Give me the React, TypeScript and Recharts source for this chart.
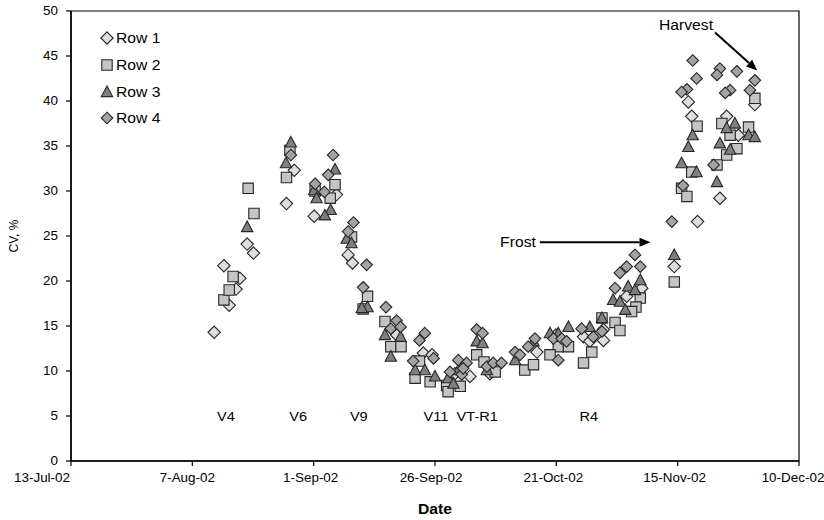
import React from 'react';
import {
  ScatterChart, Scatter, XAxis, YAxis, ReferenceArea, ReferenceLine,
} from 'recharts';

// x = days since 13-Jul-02, y = CV %
const row1X = [29.5, 31.5, 32.6, 34.0, 34.8, 36.3, 37.6, 46.0, 44.4, 50.1, 54.7, 57.1, 58.0, 67.1, 72.6, 74.4, 79.1, 82.2, 86.3, 96.0, 99.9, 105.6, 106.9, 109.7, 109.7, 114.5, 117.6, 124.3, 127.2, 127.9, 129.1, 133.7, 135.1, 137.5, 140.9];
const row1Y = [14.3, 21.7, 17.3, 19.1, 20.3, 24.1, 23.1, 32.3, 28.6, 27.2, 29.6, 22.9, 22.0, 14.0, 12.0, 11.8, 9.7, 9.4, 9.7, 12.1, 14.0, 13.8, 13.3, 13.4, 14.6, 18.3, 19.2, 21.6, 39.9, 38.3, 26.6, 29.2, 38.3, 36.2, 39.6];

const row2X = [31.5, 32.6, 33.4, 36.5, 37.7, 44.4, 45.1, 54.4, 50.3, 53.4, 57.8, 61.1, 60.2, 64.7, 65.9, 68.0, 71.8, 70.9, 74.0, 77.4, 80.2, 77.7, 83.6, 85.1, 87.4, 93.5, 95.3, 100.4, 98.7, 102.5, 107.3, 105.6, 109.4, 112.1, 113.1, 117.3, 116.4, 115.5, 124.3, 129.0, 127.9, 125.8, 126.9, 140.9, 134.1, 139.6, 135.8, 137.2, 135.1, 133.1];
const row2Y = [17.9, 19.0, 20.5, 30.3, 27.5, 31.5, 34.5, 30.7, 30.0, 29.2, 24.9, 18.3, 16.9, 15.5, 12.7, 12.7, 11.1, 9.2, 8.8, 8.4, 8.3, 7.7, 11.8, 11.0, 9.9, 10.1, 10.7, 12.7, 11.8, 12.7, 12.1, 10.9, 15.9, 15.4, 14.5, 18.1, 17.1, 16.6, 19.9, 37.2, 32.1, 30.3, 29.4, 40.3, 37.5, 37.1, 36.2, 34.7, 34.0, 32.9];

const row3X = [36.3, 45.3, 44.3, 54.4, 50.1, 50.6, 53.5, 52.3, 56.8, 57.8, 61.1, 59.9, 64.7, 65.9, 67.9, 70.9, 72.9, 75.0, 79.8, 77.7, 78.8, 83.6, 84.8, 85.7, 91.5, 95.3, 98.7, 100.4, 102.5, 106.9, 109.4, 117.3, 114.8, 116.2, 111.7, 113.1, 114.2, 124.3, 128.1, 127.2, 125.8, 128.9, 136.8, 135.1, 139.6, 140.9, 133.7, 135.8, 133.1];
const row3Y = [26.0, 35.4, 33.1, 32.4, 30.1, 29.2, 27.9, 27.3, 24.7, 24.2, 17.1, 17.0, 14.0, 11.6, 13.8, 10.1, 10.1, 9.4, 10.1, 9.2, 8.6, 13.3, 13.1, 10.1, 11.2, 13.3, 14.2, 14.2, 14.9, 14.9, 15.9, 20.1, 19.4, 19.0, 17.9, 17.7, 16.8, 22.9, 36.2, 34.9, 33.1, 32.1, 37.5, 37.0, 36.2, 36.0, 35.3, 34.6, 31.0];

const row4X = [45.3, 54.0, 53.0, 50.3, 52.2, 58.2, 57.1, 60.9, 60.2, 64.9, 67.1, 65.9, 67.9, 72.9, 71.8, 70.5, 74.7, 79.8, 81.5, 78.1, 80.5, 80.8, 83.6, 84.8, 85.7, 87.0, 88.7, 91.5, 92.5, 94.2, 95.6, 99.4, 101.1, 102.1, 100.4, 105.2, 107.6, 109.4, 116.2, 114.5, 117.3, 113.1, 112.1, 128.1, 128.9, 126.9, 125.8, 123.8, 126.1, 133.7, 133.1, 137.2, 140.9, 135.8, 134.8, 139.9, 132.4];
const row4Y = [34.0, 34.0, 31.8, 30.8, 29.9, 26.5, 25.5, 21.8, 19.3, 17.1, 15.6, 14.7, 14.9, 14.2, 13.4, 11.1, 11.4, 11.2, 10.9, 9.9, 9.6, 10.3, 14.6, 14.2, 10.5, 10.9, 10.9, 12.1, 11.8, 12.7, 13.6, 13.6, 13.6, 13.3, 11.2, 14.7, 13.8, 14.4, 22.9, 21.6, 21.6, 20.9, 19.2, 44.5, 42.5, 41.3, 41.0, 26.6, 30.6, 43.6, 42.9, 43.3, 42.3, 41.2, 40.9, 41.2, 32.9];

const tickDays = [0, 25, 50, 75, 100, 125, 150];
const tickLabels = ['13-Jul-02', '7-Aug-02', '1-Sep-02', '26-Sep-02', '21-Oct-02', '15-Nov-02', '10-Dec-02'];
const yTicks = [0, 5, 10, 15, 20, 25, 30, 35, 40, 45, 50];

const stageNames = ['V4', 'V6', 'V9', 'V11', 'VT-R1', 'R4'];
const stageDays = [31.9, 46.8, 59.3, 75.2, 83.7, 106.7];
const stageY = 4.9;

const frostArrow = [{ x: 96.6, y: 24.3 }, { x: 119.4, y: 24.3 }];
const harvestArrow = [{ x: 132.7, y: 47.6 }, { x: 141.4, y: 43.4 }];

const seriesNames = ['Row 1', 'Row 2', 'Row 3', 'Row 4'];

const FONT = '"Liberation Sans", Arial, sans-serif';
const STROKE = '#262626';
const COLORS = ['#dedede', '#c4c4c4', '#7f7f7f', '#a3a3a3'];
const SX = 1.12; // horizontal stretch of text seen in the reference

const zip = (xs: number[], ys: number[]) => xs.map((x, i) => ({ x, y: ys[i] }));
const row1 = zip(row1X, row1Y);
const row2 = zip(row2X, row2Y);
const row3 = zip(row3X, row3Y);
const row4 = zip(row4X, row4Y);
const stages = stageNames.map((n, i) => ({ x: stageDays[i], y: stageY, name: n }));

const markerPath = (kind: number, cx: number, cy: number) => {
  if (kind === 0 || kind === 3) {
    const r = kind === 0 ? 6.2 : 5.8;
    return `M${cx},${cy - r}L${cx + r},${cy}L${cx},${cy + r}L${cx - r},${cy}Z`;
  }
  if (kind === 1) {
    const h = 5.2;
    return `M${cx - h},${cy - h}L${cx + h},${cy - h}L${cx + h},${cy + h}L${cx - h},${cy + h}Z`;
  }
  return `M${cx},${cy - 6}L${cx + 5.7},${cy + 4.6}L${cx - 5.7},${cy + 4.6}Z`;
};

const makeShape = (kind: number) => (p: any) => {
  if (p.cx == null || p.cy == null) return <g />;
  return <path d={markerPath(kind, p.cx, p.cy)} fill={COLORS[kind]} stroke={STROKE} strokeWidth={1.1} />;
};

const SText = ({ x, y, anchor = 'middle', size = 12, weight = 'normal', children }: any) => (
  <text
    transform={`translate(${x},${y}) scale(${SX},1)`}
    textAnchor={anchor}
    fontFamily={FONT}
    fontSize={size}
    fontWeight={weight}
    fill="#000"
  >
    {children}
  </text>
);

const stageShape = (p: any) => (
  <SText x={p.cx} y={p.cy + 4.5} size={13}>{p.payload?.name}</SText>
);

const xTickShift = [-29, -5, -3, -4, -3, -3, -6];
const XTick = (p: any) => {
  const idx = tickDays.indexOf(p.payload?.value);
  return (
    <SText x={p.x + (xTickShift[idx] ?? 0)} y={p.y + 11} size={12}>
      {tickLabels[idx] ?? ''}
    </SText>
  );
};

const YTick = (p: any) => (
  <SText x={p.x} y={p.y + 4.3} anchor="end" size={12}>{p.payload?.value}</SText>
);

const arrowShape = (label: string, labelDx: number, labelDy: number) => (p: any) => {
  const { x1, y1, x2, y2 } = p;
  if ([x1, y1, x2, y2].some((v) => v == null || isNaN(v))) return <g />;
  const ang = Math.atan2(y2 - y1, x2 - x1);
  const L = 11, W = 4.5;
  const bx = x2 - L * Math.cos(ang), by = y2 - L * Math.sin(ang);
  const px = -Math.sin(ang) * W, py = Math.cos(ang) * W;
  return (
    <g>
      <line x1={x1} y1={y1} x2={bx} y2={by} stroke="#000" strokeWidth={2} />
      <path d={`M${x2},${y2}L${bx + px},${by + py}L${bx - px},${by - py}Z`} fill="#000" />
      <SText x={x1 + labelDx} y={y1 + labelDy} anchor="end" size={14}>{label}</SText>
    </g>
  );
};

const YLabel = (p: any) => {
  const vb = p.viewBox || {};
  const x = 14;
  const y = (vb.y ?? 11) + (vb.height ?? 450) / 2;
  return (
    <text x={x} y={y} transform={`rotate(-90, ${x}, ${y})`} textAnchor="middle" dominantBaseline="central" fontFamily={FONT} fontSize={12} fill="#000">
      CV, %
    </text>
  );
};

const XLabel = (p: any) => {
  const vb = p.viewBox || {};
  const cx = (vb.x ?? 71) + (vb.width ?? 728) / 2;
  return <SText x={cx} y={514} size={14} weight="bold">Date</SText>;
};

export default function App() {
  return (
    <div style={{ position: 'absolute', left: 0, top: 0, width: 824, height: 520, background: '#fff' }}>
      <ScatterChart width={824} height={520} margin={{ top: 11, right: 25, bottom: 0, left: 0 }}>
        <XAxis
          type="number"
          dataKey="x"
          domain={[0, 150]}
          ticks={tickDays}
          height={59}
          tickSize={5}
          tickMargin={5}
          allowDataOverflow
          axisLine={{ stroke: '#000', strokeWidth: 1.5 }}
          tickLine={{ stroke: '#000', strokeWidth: 1.2 }}
          tick={<XTick />}
          label={<XLabel />}
        />
        <YAxis
          type="number"
          dataKey="y"
          domain={[0, 50]}
          ticks={yTicks}
          width={71}
          tickSize={5}
          tickMargin={8}
          allowDataOverflow
          axisLine={{ stroke: '#000', strokeWidth: 1.5 }}
          tickLine={{ stroke: '#000', strokeWidth: 1.2 }}
          tick={<YTick />}
          label={<YLabel />}
        />
        <ReferenceArea x1={0} x2={150} y1={0} y2={50} fill="none" stroke="#000" strokeWidth={1.2} />
        <Scatter name="Row 1" data={row1} shape={makeShape(0)} isAnimationActive={false} />
        <Scatter name="Row 2" data={row2} shape={makeShape(1)} isAnimationActive={false} />
        <Scatter name="Row 3" data={row3} shape={makeShape(2)} isAnimationActive={false} />
        <Scatter name="Row 4" data={row4} shape={makeShape(3)} isAnimationActive={false} />
        <Scatter name="stages" data={stages} shape={stageShape} legendType="none" isAnimationActive={false} />
        <ReferenceLine segment={frostArrow} shape={arrowShape('Frost', -4, 5)} ifOverflow="visible" />
        <ReferenceLine segment={harvestArrow} shape={arrowShape('Harvest', -2, -3)} ifOverflow="visible" />
      </ScatterChart>
      <div style={{ position: 'absolute', left: 100, top: 25, fontFamily: FONT, fontSize: 14, color: '#000' }}>
        {seriesNames.map((n, i) => (
          <div key={n} style={{ display: 'flex', alignItems: 'center', height: 26.7, lineHeight: '16px' }}>
            <svg width={14} height={14} style={{ marginRight: 2, flex: 'none' }}>
              <path d={markerPath(i, 7, 7)} fill={COLORS[i]} stroke={STROKE} strokeWidth={1.1} />
            </svg>
            <span style={{ display: 'inline-block', transform: `scaleX(${SX})`, transformOrigin: 'left center' }}>{n}</span>
          </div>
        ))}
      </div>
    </div>
  );
}
